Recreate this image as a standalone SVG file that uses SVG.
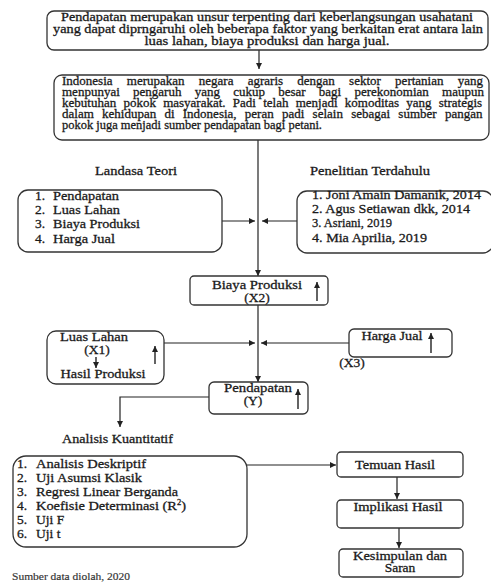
<svg xmlns="http://www.w3.org/2000/svg" width="491" height="583" viewBox="0 0 491 583">
<defs>
<marker id="ah" markerUnits="userSpaceOnUse" markerWidth="7" markerHeight="6" refX="6" refY="3" orient="auto">
<path d="M0,0 L6,3 L0,6 z" fill="#222"/>
</marker>
<style>
.box{fill:#fff;stroke:#333;stroke-width:1.3}
.ln{fill:none;stroke:#222;stroke-width:1.2}
.ic{fill:none;stroke:#222;stroke-width:1.4}
text{font-family:"Liberation Serif","Times New Roman",serif;font-size:13.5px;fill:#1a1a1a;stroke:#1a1a1a;stroke-width:0.3}
.c{text-anchor:middle}
.b1{font-size:12.5px}
.b2{font-size:13px}
.s{font-size:10px;stroke-width:0.15;fill:#333;stroke:#333}
</style>
</defs>
<rect width="491" height="583" fill="#fff"/>

<g id="connectors">
<line class="ln" x1="259" y1="50" x2="259" y2="69" marker-end="url(#ah)"/>
<line class="ln" x1="258" y1="140" x2="258" y2="276" marker-end="url(#ah)"/>
<line class="ln" x1="222" y1="221" x2="255" y2="221" marker-end="url(#ah)"/>
<line class="ln" x1="297" y1="221" x2="262" y2="221" marker-end="url(#ah)"/>
<line class="ln" x1="258" y1="305" x2="258" y2="382" marker-end="url(#ah)"/>
<line class="ln" x1="164" y1="343" x2="255" y2="343" marker-end="url(#ah)"/>
<line class="ln" x1="349" y1="343" x2="261" y2="343" marker-end="url(#ah)"/>
<polyline class="ln" points="209,397 120,397 120,427" marker-end="url(#ah)"/>
<line class="ln" x1="247" y1="465" x2="336" y2="465" marker-end="url(#ah)"/>
<line class="ln" x1="397" y1="477" x2="397" y2="499" marker-end="url(#ah)"/>
<line class="ln" x1="399" y1="528" x2="399" y2="548" marker-end="url(#ah)"/>
</g>

<g id="intro">
<rect class="box" x="47" y="11" width="441" height="39" rx="7"/>
<text class="b1 c" x="267" y="21" textLength="412" lengthAdjust="spacingAndGlyphs">Pendapatan merupakan unsur terpenting dari keberlangsungan usahatani</text>
<text class="b1 c" x="268" y="33" textLength="430" lengthAdjust="spacingAndGlyphs">yang dapat diprngaruhi oleh beberapa faktor yang berkaitan erat antara lain</text>
<text class="b1 c" x="267" y="45" textLength="245" lengthAdjust="spacingAndGlyphs">luas lahan, biaya produksi dan harga jual.</text>
</g>

<g id="background">
<rect class="box" x="54" y="75" width="435" height="65" rx="8"/>
<text class="b2" x="62" y="85" word-spacing="11">Indonesia merupakan negara agraris dengan sektor pertanian yang</text>
<text class="b2" x="62" y="96" word-spacing="10">menpunyai pengaruh yang cukup besar bagi perekonomian maupun</text>
<text class="b2" x="62" y="107" word-spacing="4">kebutuhan pokok masyarakat. Padi telah menjadi komoditas yang strategis</text>
<text class="b2" x="62" y="118" word-spacing="5">dalam kehidupan di Indonesia, peran padi selain sebagai sumber pangan</text>
<text class="b2" x="62" y="129" textLength="260" lengthAdjust="spacingAndGlyphs">pokok juga menjadi sumber pendapatan bagi petani.</text>
</g>

<g id="landasan-teori">
<text class="c" x="136" y="175" textLength="82" lengthAdjust="spacingAndGlyphs">Landasa Teori</text>
<rect class="box" x="18" y="190" width="204" height="62" rx="10"/>
<text x="35" y="200">1.</text><text x="53" y="200" textLength="66" lengthAdjust="spacingAndGlyphs">Pendapatan</text>
<text x="35" y="214">2.</text><text x="53" y="214" textLength="67" lengthAdjust="spacingAndGlyphs">Luas Lahan</text>
<text x="35" y="228">3.</text><text x="53" y="228" textLength="87" lengthAdjust="spacingAndGlyphs">Biaya Produksi</text>
<text x="35" y="243">4.</text><text x="53" y="243" textLength="62" lengthAdjust="spacingAndGlyphs">Harga Jual</text>
</g>

<g id="penelitian-terdahulu">
<text class="c" x="370" y="175" textLength="120" lengthAdjust="spacingAndGlyphs">Penelitian Terdahulu</text>
<rect class="box" x="297" y="191" width="196" height="62" rx="10"/>
<text x="312" y="199" textLength="169" lengthAdjust="spacingAndGlyphs">1. Joni Amain Damanik, 2014</text>
<text x="312" y="213" textLength="158" lengthAdjust="spacingAndGlyphs">2. Agus Setiawan dkk, 2014</text>
<text x="312" y="227" textLength="80" lengthAdjust="spacingAndGlyphs">3. Asriani, 2019</text>
<text x="312" y="242" textLength="115" lengthAdjust="spacingAndGlyphs">4. Mia Aprilia, 2019</text>
</g>

<g id="biaya-produksi">
<rect class="box" x="190" y="276" width="138" height="29" rx="4"/>
<text class="c" x="257" y="289" textLength="90" lengthAdjust="spacingAndGlyphs">Biaya Produksi</text>
<text class="c" x="257" y="302">(X2)</text>
<line class="ic" x1="317" y1="301" x2="317" y2="282" marker-end="url(#ah)"/>
</g>

<g id="luas-lahan">
<rect class="box" x="47" y="331" width="117" height="53" rx="9"/>
<text class="c" x="94" y="341" textLength="68" lengthAdjust="spacingAndGlyphs">Luas Lahan</text>
<text class="c" x="97" y="354">(X1)</text>
<line class="ic" x1="96" y1="357" x2="96" y2="368" marker-end="url(#ah)"/>
<text class="c" x="103" y="378" textLength="85" lengthAdjust="spacingAndGlyphs">Hasil Produksi</text>
<line class="ic" x1="155" y1="364" x2="155" y2="346" marker-end="url(#ah)"/>
</g>

<g id="harga-jual">
<rect class="box" x="349" y="329" width="103" height="28" rx="5"/>
<text class="c" x="392" y="340" textLength="61" lengthAdjust="spacingAndGlyphs">Harga Jual</text>
<line class="ic" x1="431" y1="353" x2="431" y2="333" marker-end="url(#ah)"/>
<text class="c" x="352" y="367">(X3)</text>
</g>

<g id="pendapatan">
<rect class="box" x="209" y="382" width="99" height="32" rx="5"/>
<text class="c" x="258" y="392" textLength="68" lengthAdjust="spacingAndGlyphs">Pendapatan</text>
<text class="c" x="253" y="405">(Y)</text>
<line class="ic" x1="298" y1="409" x2="298" y2="389" marker-end="url(#ah)"/>
</g>

<g id="analisis-kuantitatif">
<text x="62" y="443" textLength="111" lengthAdjust="spacingAndGlyphs">Analisis Kuantitatif</text>
<rect class="box" x="13" y="456" width="234" height="91" rx="13"/>
<text x="17" y="468">1.</text><text x="36" y="468" textLength="110" lengthAdjust="spacingAndGlyphs">Analisis Deskriptif</text>
<text x="17" y="482">2.</text><text x="36" y="482" textLength="106" lengthAdjust="spacingAndGlyphs">Uji Asumsi Klasik</text>
<text x="17" y="496">3.</text><text x="36" y="496" textLength="142" lengthAdjust="spacingAndGlyphs">Regresi Linear Berganda</text>
<text x="17" y="510">4.</text><text x="36" y="510" textLength="150" lengthAdjust="spacingAndGlyphs">Koefisie Determinasi (R<tspan font-size="8" dy="-5">2</tspan><tspan dy="5">)</tspan></text>
<text x="17" y="524">5.</text><text x="36" y="524">Uji F</text>
<text x="17" y="538">6.</text><text x="36" y="538">Uji t</text>
</g>

<g id="temuan-hasil">
<rect class="box" x="337" y="452" width="126" height="25" rx="4"/>
<text class="c" x="395" y="469" textLength="80" lengthAdjust="spacingAndGlyphs">Temuan Hasil</text>
</g>

<g id="implikasi-hasil">
<rect class="box" x="337" y="500" width="126" height="28" rx="4"/>
<text class="c" x="398" y="511" textLength="89" lengthAdjust="spacingAndGlyphs">Implikasi Hasil</text>
</g>

<g id="kesimpulan">
<rect class="box" x="339" y="549" width="124" height="28" rx="4"/>
<text class="c" x="400" y="560" textLength="94" lengthAdjust="spacingAndGlyphs">Kesimpulan dan</text>
<text class="c" x="400" y="572">Saran</text>
</g>

<g id="source">
<text class="s" x="12" y="580" textLength="118" lengthAdjust="spacingAndGlyphs">Sumber data diolah, 2020</text>
</g>
</svg>
